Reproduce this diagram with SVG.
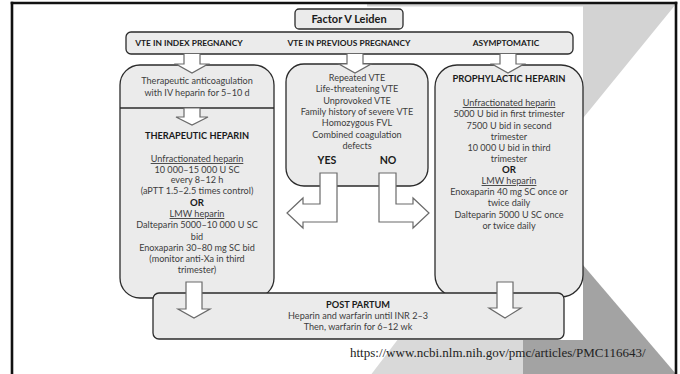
<svg xmlns="http://www.w3.org/2000/svg" width="680" height="374" viewBox="0 0 680 374">
<defs>
<style>
.box{fill:#ebebeb;stroke:#2b2b2b;stroke-width:1.3}
.arr{fill:#ffffff;stroke:#6a6a6a;stroke-width:1.2;stroke-linejoin:miter}
.t{font-family:Lato,"Liberation Sans",sans-serif;font-size:9.1px;fill:#3d3d3d;text-anchor:middle}
.b{font-family:Lato,"Liberation Sans",sans-serif;font-weight:bold;fill:#1a1a1a;text-anchor:middle}
.u{text-decoration:underline}
</style>
</defs>
<rect x="0" y="0" width="680" height="374" fill="#ffffff"/>
<polygon points="367,4 676,4 500,220 367,220" fill="#d3d3d3"/>
<polygon points="523,265 583,265 676,374 523,374" fill="#a3a3a3"/>
<polygon points="405,330 370,376 523,376 523,330" fill="#d9d9d9"/>
<rect x="90" y="6.5" width="493" height="333.5" fill="#ffffff"/>

<g id="factor-v-leiden">
<rect class="box" x="295" y="9" width="108" height="20" rx="4"/>
<text class="b" x="349" y="23" font-size="11">Factor V Leiden</text>
</g>

<g id="categories">
<rect class="box" x="126" y="32" width="447" height="22" rx="5"/>
<text class="b" x="189" y="46" font-size="8.4">VTE IN INDEX PREGNANCY</text>
<text class="b" x="349" y="46" font-size="8.4">VTE IN PREVIOUS PREGNANCY</text>
<text class="b" x="506" y="46" font-size="8.4">ASYMPTOMATIC</text>
</g>

<g id="index-pregnancy">
<path class="box" d="M140,65 H254 A20,20 0 0 1 274,85 V278 A20,20 0 0 1 254,298 H140 A20,20 0 0 1 120,278 V85 A20,20 0 0 1 140,65 Z"/>
<line x1="120" y1="108" x2="274" y2="108" stroke="#2b2b2b" stroke-width="1.3"/>
<text class="t" x="197" y="84">Therapeutic anticoagulation</text>
<text class="t" x="197" y="95.5">with IV heparin for 5–10 d</text>
<text class="b" x="197" y="138.5" font-size="9.2">THERAPEUTIC HEPARIN</text>
<text class="t u" x="197" y="162">Unfractionated heparin</text>
<text class="t" x="197" y="172.5">10 000–15 000 U SC</text>
<text class="t" x="197" y="183">every 8–12 h</text>
<text class="t" x="197" y="194">(aPTT 1.5–2.5 times control)</text>
<text class="b" x="197" y="205.5" font-size="9.6">OR</text>
<text class="t u" x="197" y="217">LMW heparin</text>
<text class="t" x="197" y="228">Dalteparin 5000–10 000 U SC</text>
<text class="t" x="197" y="239.5">bid</text>
<text class="t" x="197" y="251">Enoxaparin 30–80 mg SC bid</text>
<text class="t" x="197" y="262">(monitor anti-Xa in third</text>
<text class="t" x="197" y="273">trimester)</text>
</g>

<g id="previous-pregnancy">
<path class="box" d="M304,64 H410 A18,18 0 0 1 428,82 V168 A18,18 0 0 1 410,186 H304 A18,18 0 0 1 286,168 V82 A18,18 0 0 1 304,64 Z"/>
<text class="t" x="357" y="80.5">Repeated VTE</text>
<text class="t" x="357" y="92">Life-threatening VTE</text>
<text class="t" x="357" y="103.5">Unprovoked VTE</text>
<text class="t" x="357" y="115">Family history of severe VTE</text>
<text class="t" x="357" y="126">Homozygous FVL</text>
<text class="t" x="357" y="137.5">Combined coagulation</text>
<text class="t" x="357" y="149">defects</text>
<text class="b" x="327" y="164" font-size="10.6">YES</text>
<text class="b" x="388" y="164" font-size="10.6">NO</text>
</g>

<g id="asymptomatic">
<path class="box" d="M457,65 H561 A22,22 0 0 1 583,87 V275 A22,22 0 0 1 561,297 H457 A22,22 0 0 1 435,275 V87 A22,22 0 0 1 457,65 Z"/>
<text class="b" x="509" y="82" font-size="9.4">PROPHYLACTIC HEPARIN</text>
<text class="t u" x="509" y="106">Unfractionated heparin</text>
<text class="t" x="509" y="117">5000 U bid in first trimester</text>
<text class="t" x="509" y="128.5">7500 U bid in second</text>
<text class="t" x="509" y="139.5">trimester</text>
<text class="t" x="509" y="150.5">10 000 U bid in third</text>
<text class="t" x="509" y="161.5">trimester</text>
<text class="b" x="509" y="173" font-size="9.6">OR</text>
<text class="t u" x="509" y="184">LMW heparin</text>
<text class="t" x="509" y="195">Enoxaparin 40 mg SC once or</text>
<text class="t" x="509" y="206">twice daily</text>
<text class="t" x="509" y="217.5">Dalteparin 5000 U SC once</text>
<text class="t" x="509" y="228.5">or twice daily</text>
</g>

<g id="post-partum">
<rect class="box" x="153" y="293" width="411" height="46" rx="6"/>
<text class="b" x="358" y="307.5" font-size="9.2">POST PARTUM</text>
<text class="t" x="358" y="319">Heparin and warfarin until INR 2–3</text>
<text class="t" x="358" y="330">Then, warfarin for 6–12 wk</text>
</g>

<g id="connectors">
<polygon class="arr" points="184,53.5 200,53.5 200,64 208,64 192,73 176,64 184,64"/>
<polygon class="arr" points="347,53.5 363,53.5 363,64 371,64 355,73 339,64 347,64"/>
<polygon class="arr" points="500,53.5 516,53.5 516,64 524,64 508,73 492,64 500,64"/>
<polygon class="arr" points="184,108 200,108 200,117 208,117 192,125 176,117 184,117"/>
<polygon class="arr" points="320,173 337,173 337,222 303,222 303,228 287,213 303,198 303,204 320,204"/>
<polygon class="arr" points="379,173 396,173 396,204 413,204 413,198 429,213 413,228 413,222 379,222"/>
<polygon class="arr" points="186,282 202,282 202,309 210,309 194,318 178,309 186,309"/>
<polygon class="arr" points="497,282 513,282 513,308 521,308 505,318 489,308 497,308"/>
</g>

<text x="350" y="357" font-family="Liberation Serif,serif" font-size="13" fill="#222">https://www.ncbi.nlm.nih.gov/pmc/articles/PMC116643/</text>

<g stroke="#111" stroke-width="2.6" fill="none">
<line x1="10.7" y1="3" x2="677.3" y2="3"/>
<line x1="12" y1="1.7" x2="12" y2="374"/>
<line x1="676" y1="1.7" x2="676" y2="374"/>
</g>
</svg>
